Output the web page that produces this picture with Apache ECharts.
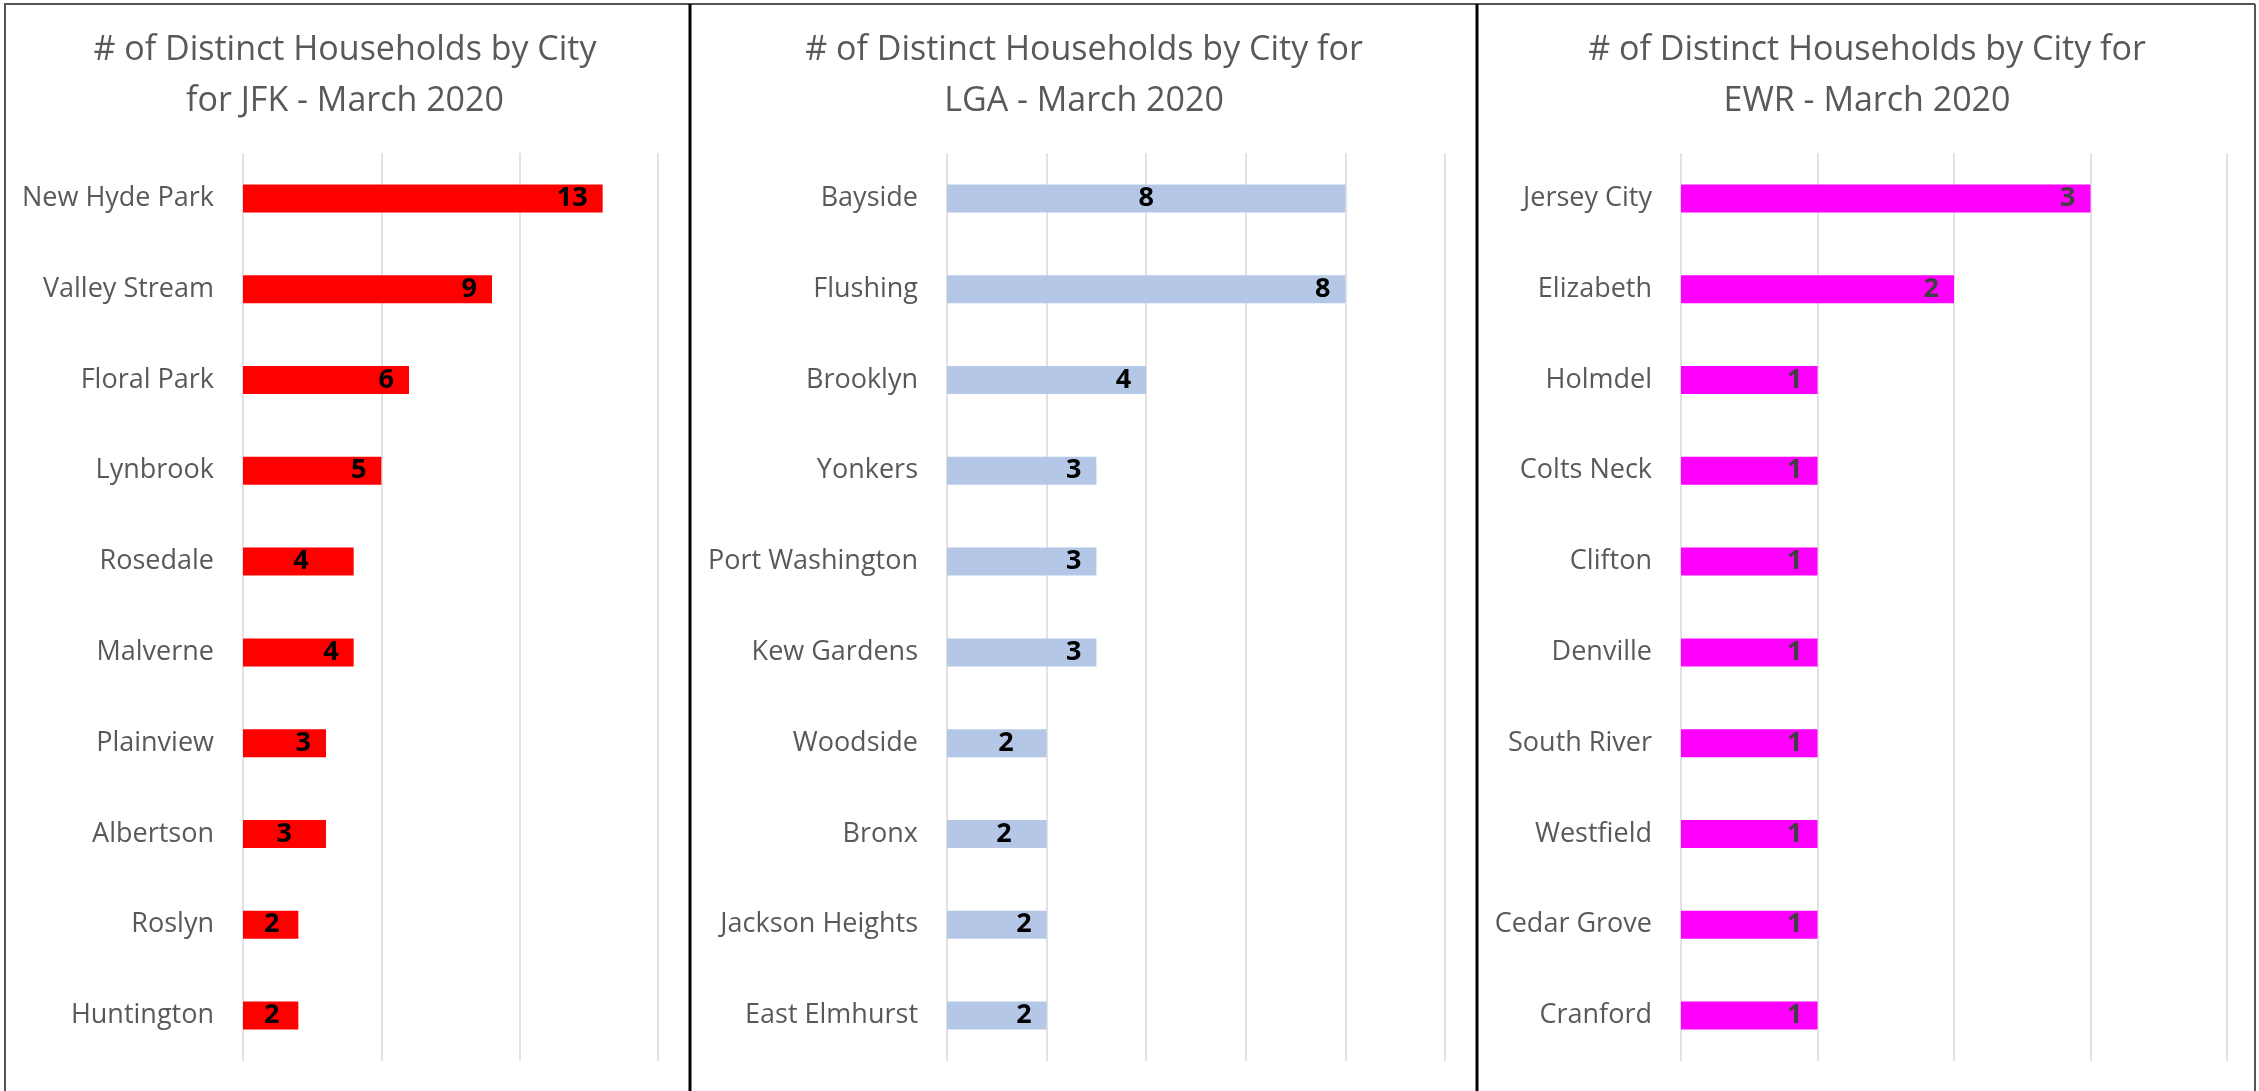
<!DOCTYPE html>
<html>
<head>
<meta charset="utf-8">
<script src="https://cdn.jsdelivr.net/npm/echarts@6/dist/echarts.min.js"></script>
<style>
html,body{margin:0;padding:0;background:#fff;}
#c{width:2259px;height:1091px;}
</style>
</head>
<body>
<div id="c"></div>
<script>
// ---- Data ----
const jfkCities = ["New Hyde Park","Valley Stream","Floral Park","Lynbrook","Rosedale","Malverne","Plainview","Albertson","Roslyn","Huntington"];
const jfkValues = [13, 9, 6, 5, 4, 4, 3, 3, 2, 2];

const lgaCities = ["Bayside","Flushing","Brooklyn","Yonkers","Port Washington","Kew Gardens","Woodside","Bronx","Jackson Heights","East Elmhurst"];
const lgaValues = [8, 8, 4, 3, 3, 3, 2, 2, 2, 2];

const ewrCities = ["Jersey City","Elizabeth","Holmdel","Colts Neck","Clifton","Denville","South River","Westfield","Cedar Grove","Cranford"];
const ewrValues = [3, 2, 1, 1, 1, 1, 1, 1, 1, 1];

const titles = [
  "# of Distinct Households by City\nfor JFK - March 2020",
  "# of Distinct Households by City for\nLGA - March 2020",
  "# of Distinct Households by City for\nEWR - March 2020"
];

// ---- Styling / layout (not data) ----
const FONT = "'Open Sans', 'Noto Sans', sans-serif";
const panels = [
  {cities: jfkCities, values: jfkValues, color: '#FF0000', labelColor: '#000000', max: 15, interval: 5,
   left: 243, width: 415, center: 345,
   nudge: {"Rosedale": -30, "Albertson": -19, "Roslyn": -4, "Huntington": -4}, centered: {}},
  {cities: lgaCities, values: lgaValues, color: '#B4C7E7', labelColor: '#000000', max: 10, interval: 2,
   left: 947, width: 498, center: 1084,
   nudge: {"Woodside": -18, "Bronx": -20}, centered: {"Bayside": true}},
  {cities: ewrCities, values: ewrValues, color: '#FF00FF', labelColor: '#404040', max: 4, interval: 1,
   left: 1681, width: 546, center: 1867,
   nudge: {}, centered: {}}
];

const GRID_TOP = 153;
const GRID_H = 908;

const option = {
  backgroundColor: '#ffffff',
  animation: false,
  title: panels.map((p, i) => ({
    text: titles[i],
    left: p.center,
    top: 25,
    padding: 0,
    textAlign: 'center',
    textStyle: {fontFamily: FONT, fontSize: 34, fontWeight: 'normal', color: '#595959', lineHeight: 51}
  })),
  grid: panels.map(p => ({left: p.left, top: GRID_TOP, width: p.width, height: GRID_H, containLabel: false})),
  xAxis: panels.map((p, i) => ({
    type: 'value', gridIndex: i, min: 0, max: p.max, interval: p.interval,
    axisLine: {show: false}, axisTick: {show: false}, axisLabel: {show: false},
    splitLine: {show: true, lineStyle: {color: '#D9D9D9', width: 1.5}}
  })),
  yAxis: panels.map((p, i) => ({
    type: 'category', gridIndex: i, inverse: true, data: p.cities,
    axisLine: {show: false}, axisTick: {show: false},
    axisLabel: {margin: 29, color: '#595959', fontSize: 27, fontFamily: FONT}
  })),
  series: panels.map((p, i) => ({
    type: 'bar', xAxisIndex: i, yAxisIndex: i, barWidth: 28,
    itemStyle: {color: p.color},
    label: {show: true, position: 'insideRight', distance: 15, color: p.labelColor,
            fontFamily: FONT, fontSize: 27, fontWeight: 'bold'},
    data: p.values.map((v, k) => {
      const city = p.cities[k];
      const item = {value: v};
      if (p.centered[city]) item.label = {position: 'inside'};
      else if (p.nudge[city]) item.label = {offset: [p.nudge[city], 0]};
      return item;
    })
  })),
  graphic: [
    {type: 'line', shape: {x1: 4, y1: 4, x2: 2255, y2: 4}, style: {stroke: '#555555', lineWidth: 2}},
    {type: 'line', shape: {x1: 5, y1: 4, x2: 5, y2: 1091}, style: {stroke: '#555555', lineWidth: 2}},
    {type: 'line', shape: {x1: 2255, y1: 4, x2: 2255, y2: 1091}, style: {stroke: '#555555', lineWidth: 2}},
    {type: 'line', shape: {x1: 690, y1: 4, x2: 690, y2: 1091}, style: {stroke: '#000000', lineWidth: 3}},
    {type: 'line', shape: {x1: 1477, y1: 4, x2: 1477, y2: 1091}, style: {stroke: '#000000', lineWidth: 3}}
  ]
};

const chart = echarts.init(document.getElementById('c'), null, {renderer: 'canvas'});
chart.setOption(option);
</script>
</body>
</html>
